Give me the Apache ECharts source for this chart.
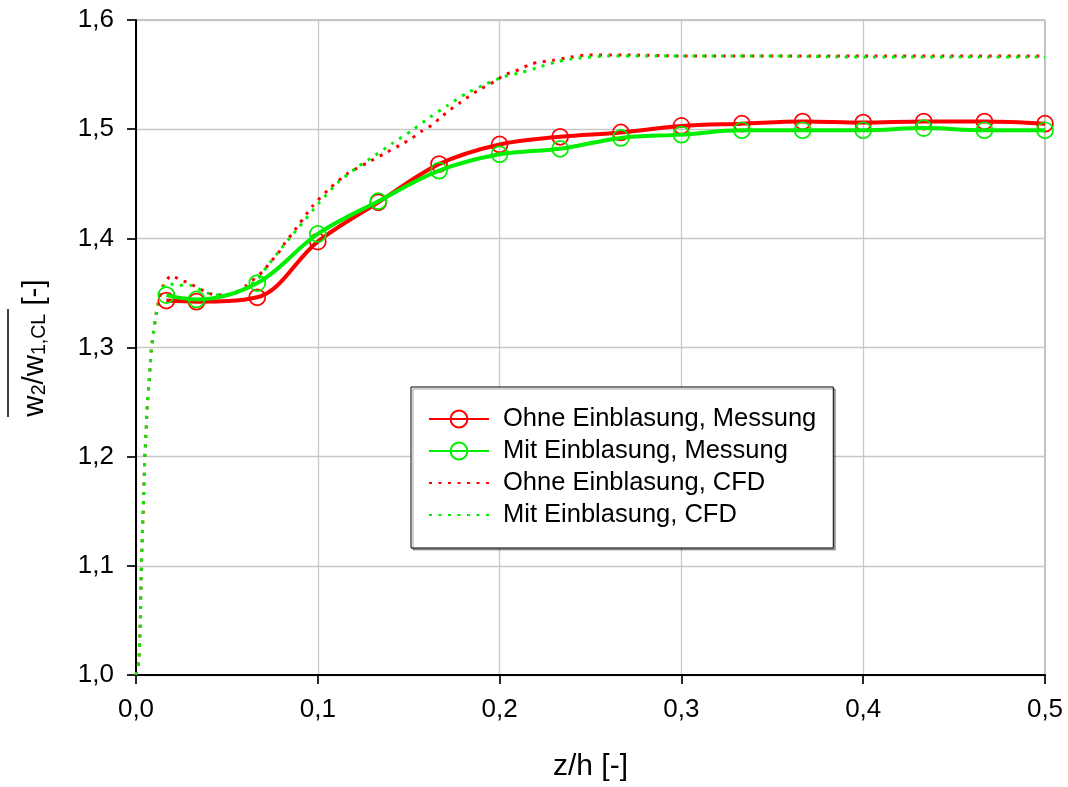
<!DOCTYPE html>
<html>
<head>
<meta charset="utf-8">
<script src="https://cdn.jsdelivr.net/npm/echarts@6/dist/echarts.min.js"></script>
<style>
html,body{margin:0;padding:0;background:#ffffff;}
#chart{width:1068px;height:787px;}
</style>
</head>
<body>
<div id="chart"></div>
<script>
// ---- data ----
const seriesNames = ['Ohne Einblasung, Messung', 'Mit Einblasung, Messung', 'Ohne Einblasung, CFD', 'Mit Einblasung, CFD'];
const xTickValues = [0, 0.1, 0.2, 0.3, 0.4, 0.5];
const yTickValues = [1.0, 1.1, 1.2, 1.3, 1.4, 1.5, 1.6];

// measurement positions z/h
const zMess = [0.0167, 0.0333, 0.0667, 0.1, 0.1333, 0.1667, 0.2, 0.2333, 0.2667, 0.3, 0.3333, 0.3667, 0.4, 0.4333, 0.4667, 0.5];
const vOhneMess = [1.343, 1.342, 1.346, 1.397, 1.433, 1.468, 1.486, 1.493, 1.497, 1.503, 1.505, 1.507, 1.506, 1.507, 1.507, 1.505];
const vMitMess  = [1.348, 1.344, 1.359, 1.404, 1.434, 1.462, 1.477, 1.482, 1.492, 1.495, 1.499, 1.499, 1.499, 1.501, 1.499, 1.499];

// CFD profiles
const zOhneCfd = [0, 0.0015, 0.0020, 0.0024, 0.0029, 0.0035, 0.0042, 0.0048, 0.0055, 0.0062, 0.0070, 0.0077, 0.0084, 0.0097, 0.0112, 0.0123, 0.0150, 0.0195, 0.0242, 0.0290, 0.0396, 0.0446, 0.0500, 0.0556, 0.0600, 0.0700, 0.0737, 0.0776, 0.0820, 0.0858, 0.0968, 0.1067, 0.1160, 0.1270, 0.1370, 0.1470, 0.1520, 0.1570, 0.1630, 0.1670, 0.1730, 0.1780, 0.1830, 0.1876, 0.1975, 0.2030, 0.2085, 0.2180, 0.2290, 0.2390, 0.2490, 0.2700, 0.3000, 0.3500, 0.4000, 0.4500, 0.5000];
const vOhneCfd = [1.000, 1.012, 1.030, 1.053, 1.095, 1.129, 1.163, 1.197, 1.222, 1.247, 1.264, 1.281, 1.298, 1.315, 1.332, 1.341, 1.357, 1.366, 1.362, 1.359, 1.350, 1.348, 1.348, 1.351, 1.356, 1.370, 1.378, 1.385, 1.396, 1.404, 1.429, 1.446, 1.459, 1.469, 1.478, 1.487, 1.492, 1.498, 1.504, 1.510, 1.518, 1.524, 1.530, 1.535, 1.544, 1.550, 1.553, 1.560, 1.563, 1.566, 1.568, 1.568, 1.567, 1.567, 1.567, 1.567, 1.567];

const zMitCfd = [0, 0.0015, 0.0020, 0.0024, 0.0029, 0.0035, 0.0042, 0.0048, 0.0055, 0.0062, 0.0070, 0.0077, 0.0084, 0.0097, 0.0112, 0.0123, 0.0150, 0.0170, 0.0225, 0.0297, 0.0340, 0.0390, 0.0457, 0.0517, 0.0570, 0.0666, 0.0720, 0.0800, 0.0840, 0.0880, 0.1010, 0.1110, 0.1216, 0.1315, 0.1410, 0.1520, 0.1617, 0.1716, 0.1820, 0.1920, 0.2020, 0.2123, 0.2220, 0.2320, 0.2426, 0.2600, 0.3000, 0.3500, 0.4000, 0.4500, 0.5000];
const vMitCfd = [1.000, 1.012, 1.030, 1.053, 1.095, 1.129, 1.163, 1.197, 1.222, 1.247, 1.264, 1.281, 1.298, 1.315, 1.332, 1.341, 1.355, 1.359, 1.357, 1.357, 1.354, 1.350, 1.348, 1.349, 1.351, 1.362, 1.374, 1.391, 1.399, 1.407, 1.433, 1.451, 1.465, 1.476, 1.487, 1.499, 1.511, 1.522, 1.533, 1.541, 1.548, 1.552, 1.557, 1.562, 1.565, 1.567, 1.567, 1.567, 1.566, 1.566, 1.566];

// ---- chart ----
const FONT = '"Liberation Sans", Arial, sans-serif';
const pairs = (xs, ys) => xs.map((x, i) => [x, ys[i]]);
const fmt = v => v.toFixed(1).replace('.', ',');

const chart = echarts.init(document.getElementById('chart'), null, {renderer: 'canvas'});

const axisCommon = {
  type: 'value',
  axisLine: {show: true, onZero: false, lineStyle: {color: '#000', width: 2}},
  axisTick: {show: true, inside: false, length: 9, lineStyle: {color: '#000', width: 1.7}},
  axisLabel: {color: '#000', fontSize: 26, fontFamily: FONT, margin: 22, formatter: fmt},
  splitLine: {show: true, lineStyle: {color: '#c8c8c8', width: 1.3}}
};

const option = {
  animation: false,
  backgroundColor: '#ffffff',
  textStyle: {fontFamily: FONT},
  grid: {left: 136, right: 23, top: 20, bottom: 112, show: true, borderColor: '#808080', borderWidth: 1, backgroundColor: 'transparent'},
  xAxis: Object.assign({}, axisCommon, {
    min: xTickValues[0], max: xTickValues[xTickValues.length - 1], interval: 0.1,
    name: 'z/h [-]', nameLocation: 'middle', nameGap: 77,
    nameTextStyle: {color: '#000', fontSize: 30, fontFamily: FONT}
  }),
  yAxis: Object.assign({}, axisCommon, {
    min: yTickValues[0], max: yTickValues[yTickValues.length - 1], interval: 0.1
  }),
  legend: {
    data: seriesNames,
    orient: 'vertical',
    left: 411, top: 387,
    backgroundColor: '#ffffff',
    borderColor: '#000', borderWidth: 1,
    shadowColor: 'rgba(0,0,0,0.35)', shadowOffsetX: 2, shadowOffsetY: 2, shadowBlur: 0,
    padding: [19, 17, 20, 17],
    itemGap: 6, itemWidth: 60, itemHeight: 21,
    textStyle: {color: '#000', fontSize: 25.5, fontFamily: FONT, lineHeight: 26, padding: [0, 0, 0, 9]},
    selectedMode: false
  },
  graphic: [
    {
      type: 'text', x: 33, y: 348, rotation: Math.PI / 2, silent: true,
      style: {
        text: '{m|w}{s|2}{m|/w}{s|1,CL}{m| [-]}',
        align: 'center', verticalAlign: 'middle',
        rich: {
          m: {fontSize: 29.5, fontFamily: FONT, fill: '#000', lineHeight: 34, verticalAlign: 'bottom'},
          s: {fontSize: 19.5, fontFamily: FONT, fill: '#000', lineHeight: 19, verticalAlign: 'bottom'}
        }
      }
    },
    {
      type: 'line', silent: true,
      shape: {x1: 8, y1: 309, x2: 8, y2: 417},
      style: {stroke: '#000', lineWidth: 1.5}
    }
  ],
  series: [
    {
      name: seriesNames[0], type: 'line', z: 4,
      data: pairs(zMess, vOhneMess),
      smooth: 0.35, symbol: 'circle', symbolSize: 16, showAllSymbol: true,
      lineStyle: {color: '#ff0000', width: 4},
      itemStyle: {color: 'rgba(255,255,255,0)', borderColor: '#ff0000', borderWidth: 1.7},
      emphasis: {disabled: true}
    },
    {
      name: seriesNames[1], type: 'line', z: 5,
      data: pairs(zMess, vMitMess),
      smooth: 0.35, symbol: 'circle', symbolSize: 16, showAllSymbol: true,
      lineStyle: {color: '#00ee00', width: 4},
      itemStyle: {color: 'rgba(255,255,255,0)', borderColor: '#00ee00', borderWidth: 1.7},
      emphasis: {disabled: true}
    },
    {
      name: seriesNames[2], type: 'line', z: 2,
      data: pairs(zOhneCfd, vOhneCfd),
      smooth: 0.2, symbol: 'none',
      lineStyle: {color: '#ff0000', width: 3, type: [3, 6.5]},
      itemStyle: {color: 'rgba(0,0,0,0)', borderWidth: 0},
      emphasis: {disabled: true}
    },
    {
      name: seriesNames[3], type: 'line', z: 3,
      data: pairs(zMitCfd, vMitCfd),
      smooth: 0.2, symbol: 'none',
      lineStyle: {color: '#00ee00', width: 3, type: [3, 6.5]},
      itemStyle: {color: 'rgba(0,0,0,0)', borderWidth: 0},
      emphasis: {disabled: true}
    }
  ]
};
chart.setOption(option);
</script>
</body>
</html>
